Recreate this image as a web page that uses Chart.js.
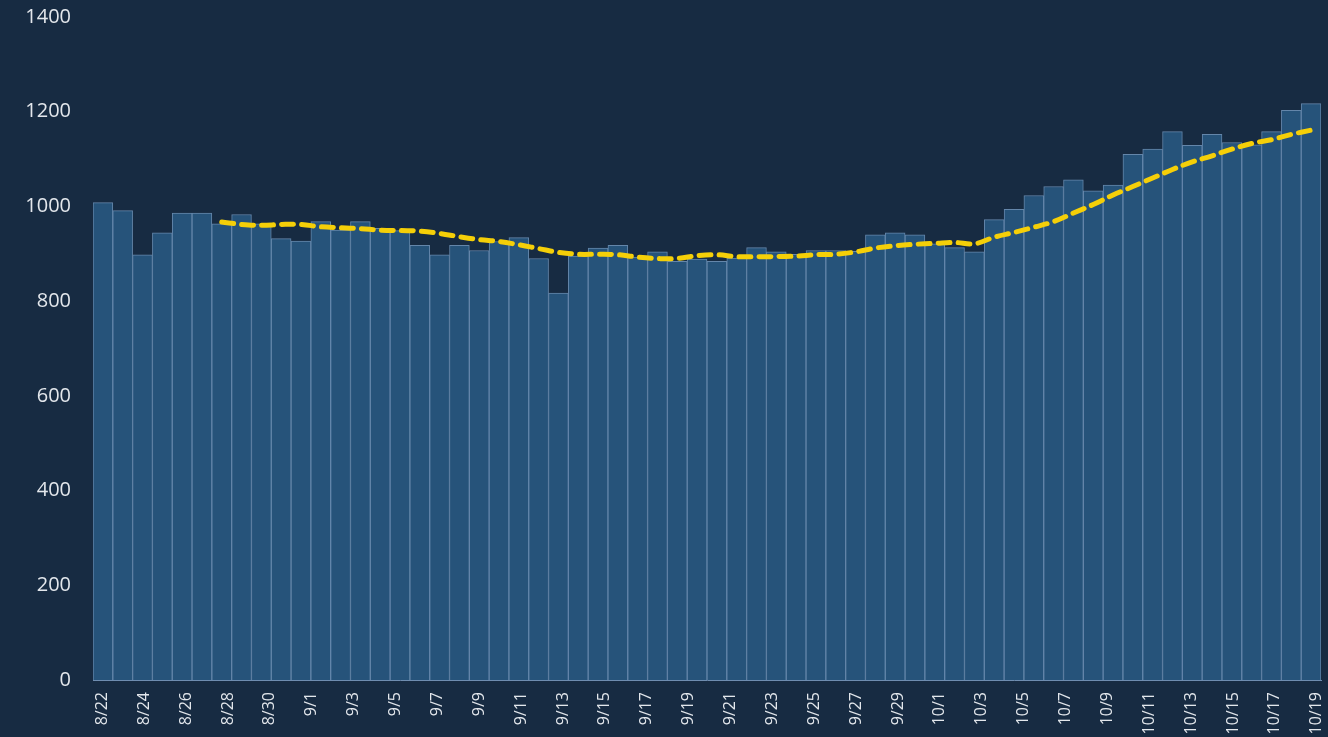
<!DOCTYPE html>
<html>
<head>
<meta charset="utf-8">
<script src="https://cdn.jsdelivr.net/npm/chart.js@4/dist/chart.umd.min.js"></script>
<style>
html, body { margin: 0; padding: 0; background: #172b42; }
canvas { display: block; }
</style>
</head>
<body>
<canvas id="dailyChart" width="1328" height="737"></canvas>
<script>
// one bar per day, 8/19 .. 10/19
var barDays = ["8/19","8/20","8/21","8/22","8/23","8/24","8/25","8/26","8/27","8/28","8/29","8/30","8/31",
  "9/1","9/2","9/3","9/4","9/5","9/6","9/7","9/8","9/9","9/10","9/11","9/12","9/13","9/14","9/15","9/16","9/17","9/18","9/19","9/20",
  "9/21","9/22","9/23","9/24","9/25","9/26","9/27","9/28","9/29","9/30",
  "10/1","10/2","10/3","10/4","10/5","10/6","10/7","10/8","10/9","10/10","10/11","10/12","10/13","10/14","10/15","10/16","10/17","10/18","10/19"];

var dailyCounts = [1008, 991, 898, 944, 986, 986, 963, 983, 963, 932, 927, 968, 950, 968, 954, 949,
  918, 898, 918, 907, 926, 934, 890, 817, 895, 912, 918, 893, 904, 884, 889, 884,
  891, 913, 904, 899, 907, 907, 905, 940, 944, 940, 921, 913, 904, 972,
  994, 1023, 1042, 1056, 1033, 1045, 1110, 1121, 1158, 1129, 1152, 1135, 1130, 1158, 1203, 1217];

// 7 day average (starts on the 7th bar)
var avgCounts = [null, null, null, null, null, null, 967, 962, 960, 962, 962, 957, 955, 953, 950, 949,
  948, 943, 936, 930, 926, 919, 911, 903, 899, 899, 898, 893, 890, 890, 896, 898,
  894, 894, 894, 895, 898, 899, 904, 912, 917, 920, 922, 924, 921, 935,
  945, 956, 968, 986, 1004, 1024, 1042, 1060, 1078, 1094, 1107, 1121, 1133, 1141, 1152, 1161];

// date axis labels, every 2nd day from 8/22
var tickLabels = ["8/22","8/24","8/26","8/28","8/30","9/1","9/3","9/5","9/7","9/9","9/11","9/13","9/15","9/17","9/19",
  "9/21","9/23","9/25","9/27","9/29","10/1","10/3","10/5","10/7","10/9","10/11","10/13","10/15","10/17","10/19"];

var yTicks = [0, 200, 400, 600, 800, 1000, 1200, 1400];

var labelColor = "#e3e7ec";

new Chart("dailyChart", {
  type: "bar",
  data: {
    labels: barDays,
    datasets: [{
      type: "line",
      data: avgCounts,
      borderColor: "#f5cf08",
      borderWidth: 5,
      borderDash: [12, 8],
      borderCapStyle: "round",
      pointRadius: 0,
      tension: 0.4,
      fill: false,
      order: 0
    }, {
      data: dailyCounts,
      backgroundColor: "#26537a",
      borderColor: "#6486aa",
      borderWidth: 1,
      categoryPercentage: 1,
      barPercentage: 1,
      order: 1
    }]
  },
  options: {
    responsive: false,
    animation: false,
    devicePixelRatio: 1,
    layout: { padding: { top: 17, right: 7, left: 0, bottom: 0 } },
    plugins: {
      legend: { display: false },
      tooltip: { enabled: false }
    },
    scales: {
      x: { display: false, offset: true },
      xd: {
        type: "linear",
        position: "bottom",
        offset: false,
        min: -0.45,
        max: 58.2,
        grid: { display: false, drawTicks: false },
        border: { display: true, color: "#6f8db0", width: 1 },
        afterBuildTicks: function(s) {
          s.ticks = tickLabels.map(function(t, i) { return { value: i * 2 }; });
        },
        afterFit: function(s) {
          s.height = 57;
          // labels may hang over the edges, don't shrink the plot for them
          s.paddingLeft = 0;
          s.paddingRight = 0;
        },
        ticks: {
          autoSkip: false,
          minRotation: 90,
          maxRotation: 90,
          padding: 12,
          color: labelColor,
          font: { family: "Open Sans", size: 16 },
          callback: function(v) { return tickLabels[v / 2]; }
        }
      },
      y: {
        min: 0,
        max: 1400,
        grid: { display: false, drawTicks: true, tickLength: 19 },
        border: { display: false },
        afterBuildTicks: function(s) {
          s.ticks = yTicks.map(function(v) { return { value: v }; });
        },
        afterFit: function(s) { s.width = 93; },
        ticks: {
          padding: 3,
          color: labelColor,
          font: { family: "Open Sans", size: 20 },
          callback: function(v) { return String(v); }
        }
      }
    }
  }
});
</script>
</body>
</html>
